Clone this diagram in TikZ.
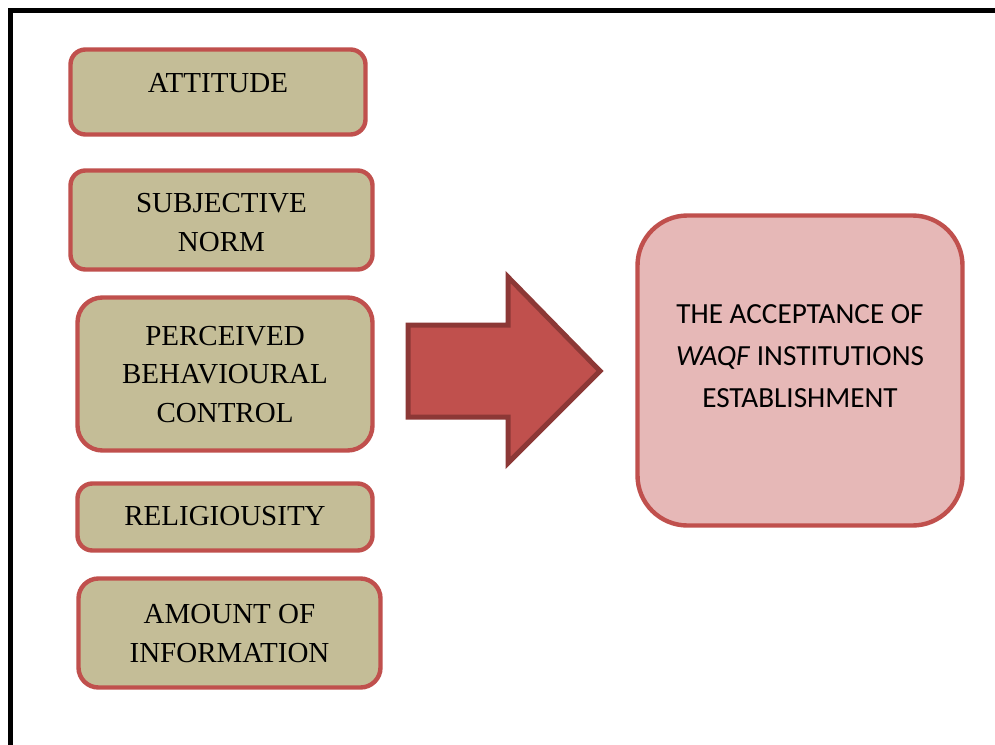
\documentclass[tikz,border=0pt]{standalone}
\usepackage{fontspec}
\setmainfont{Liberation Serif}
\newfontfamily\calfont{Carlito}
\definecolor{tan}{HTML}{C4BD97}
\definecolor{redb}{HTML}{C0504D}
\definecolor{darkred}{HTML}{8C3836}
\definecolor{pinkf}{HTML}{E6B8B7}
\begin{document}
\begin{tikzpicture}[x=0.5pt,y=-0.5pt,
  box/.style={draw=redb,fill=tan,line width=2.2pt,inner sep=0pt},
  bigbox/.style={draw=redb,fill=pinkf,line width=2.2pt,inner sep=0pt,rounded corners=25pt,minimum width=162.5pt,minimum height=155pt},
  ltext/.style={font=\fontsize{14.5pt}{19.25pt}\selectfont,align=center,anchor=base,inner sep=0pt},
  rtext/.style={font=\calfont\fontsize{14.6pt}{21pt}\selectfont,align=center,anchor=base,inner sep=0pt},
  arrowshape/.style={draw=darkred,fill=redb,line width=2.5pt,line join=miter}]
\useasboundingbox (0,0) rectangle (995,744);
\clip (0,0) rectangle (995,744);
\fill[white] (0,0) rectangle (995,744);
% frame
\draw[line width=2.5pt] (10.8,800) -- (10.8,10.8) -- (1050,10.8);
% left boxes
\node[box,rounded corners=7.5pt,minimum width=147.5pt,minimum height=42.5pt] (att) at (218,92) {};
\node[ltext] (attt) at (218,92) {ATTITUDE};
\node[box,rounded corners=7.5pt,minimum width=151pt,minimum height=49.5pt] (sn) at (221.5,220) {};
\node[ltext] (snt) at (221.5,251) {SUBJECTIVE\\NORM};
\node[box,rounded corners=12.5pt,minimum width=147.5pt,minimum height=76.5pt] (pbc) at (225,374) {};
\node[ltext] (pbct) at (225,422) {PERCEIVED\\BEHAVIOURAL\\CONTROL};
\node[box,rounded corners=7.5pt,minimum width=147.5pt,minimum height=33.5pt] (rel) at (225,517) {};
\node[ltext] (relt) at (225,525) {RELIGIOUSITY};
\node[box,rounded corners=10pt,minimum width=151pt,minimum height=54.5pt] (amt) at (229.5,633) {};
\node[ltext] (amtt) at (229.5,662) {AMOUNT OF\\INFORMATION};
% big arrow
\draw[arrowshape] (408,325) -- (508,325) -- (508,277) -- (600,371) -- (508,463) -- (508,417) -- (408,417) -- cycle;
% outcome
\node[bigbox] (acc) at (800,370.5) {};
\node[rtext] (acct) at (800,407) {THE ACCEPTANCE OF\\\textit{WAQF} INSTITUTIONS\\ESTABLISHMENT};
\end{tikzpicture}
\end{document}
